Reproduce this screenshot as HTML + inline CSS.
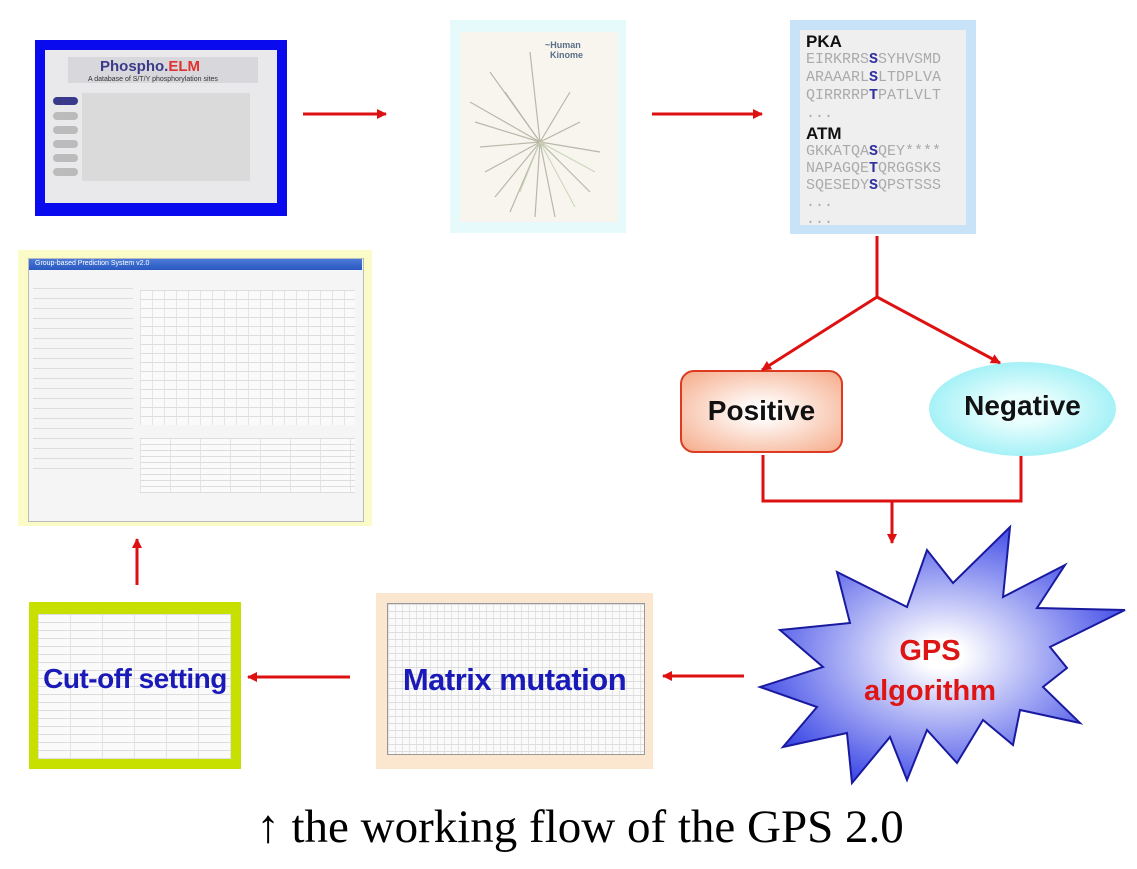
<!DOCTYPE html>
<html><head><meta charset="utf-8"><style>
body{margin:0;width:1137px;height:869px;background:#fff;position:relative;overflow:hidden;font-family:"Liberation Sans",sans-serif}
.a{position:absolute}
.grid{background-color:#fafafa;background-image:linear-gradient(#ddd 1px,transparent 1px),linear-gradient(90deg,#e4e4e4 1px,transparent 1px);background-size:12px 9px}
.seq{font-family:"Liberation Mono",monospace;color:#aaa;font-size:15px;line-height:18px;white-space:pre}
.seq b{color:#3030a0}
</style></head><body>
<!-- PhosphoELM -->
<div class="a" style="left:35px;top:40px;width:252px;height:176px;background:#0a0aee"></div>
<div class="a" style="left:45px;top:50px;width:232px;height:153px;background:#e9e9ec"></div>
<div class="a" style="left:68px;top:57px;width:190px;height:26px;background:#d8d8dc"></div>
<div class="a" style="left:100px;top:58px;font-size:15px;font-weight:bold;color:#3a3a8a">Phospho.<span style="color:#e03030">ELM</span></div>
<div class="a" style="left:88px;top:76px;font-size:7px;color:#333">A database of S/T/Y phosphorylation sites</div>
<div class="a" style="left:53px;top:97px;width:25px;height:8px;border-radius:5px;background:#3a3a8a"></div>
<div class="a" style="left:53px;top:112px;width:25px;height:8px;border-radius:5px;background:#bbb"></div>
<div class="a" style="left:53px;top:126px;width:25px;height:8px;border-radius:5px;background:#bbb"></div>
<div class="a" style="left:53px;top:140px;width:25px;height:8px;border-radius:5px;background:#bbb"></div>
<div class="a" style="left:53px;top:154px;width:25px;height:8px;border-radius:5px;background:#bbb"></div>
<div class="a" style="left:53px;top:168px;width:25px;height:8px;border-radius:5px;background:#bbb"></div>
<div class="a" style="left:82px;top:93px;width:168px;height:88px;background:#dadada"></div>
<!-- Kinome -->
<div class="a" style="left:450px;top:20px;width:176px;height:213px;background:#e6fafc"></div>
<div class="a" style="left:460px;top:32px;width:158px;height:190px;background:#f7f5ee"></div>
<svg class="a" style="left:460px;top:32px" width="158" height="190"><g stroke="#b9b8a8" stroke-width="1.2" fill="none">
<path d="M80 110 L30 40 M80 110 L15 90 M80 110 L25 140 M80 110 L50 180 M80 110 L95 185 M80 110 L130 160 M80 110 L140 120 M80 110 L110 60 M80 110 L70 20 M80 110 L45 60 M80 110 L20 115 M80 110 L120 90 M80 110 L10 70 M80 110 L35 165 M80 110 L75 185"/></g>
<g stroke="#c8d6b8" stroke-width="1" fill="none"><path d="M80 110 L135 140 M80 110 L115 175 M80 110 L60 160"/></g></svg>
<div class="a" style="left:545px;top:40px;font-size:9px;font-weight:bold;color:#5a6e88;line-height:10px">~Human<br>&nbsp;&nbsp;Kinome</div>
<!-- PKA -->
<div class="a" style="left:790px;top:20px;width:186px;height:214px;background:#c8e2f7"></div>
<div class="a" style="left:800px;top:30px;width:166px;height:195px;background:#efefef"></div>
<div class="a" style="left:806px;top:32px;font-size:17px;font-weight:bold;color:#111">PKA</div>
<div class="a seq" style="left:806px;top:51px">EIRKRRS<b>S</b>SYHVSMD
ARAAARL<b>S</b>LTDPLVA
QIRRRRP<b>T</b>PATLVLT
...</div>
<div class="a" style="left:806px;top:124px;font-size:17px;font-weight:bold;color:#111">ATM</div>
<div class="a seq" style="left:806px;top:143px;line-height:17px">GKKATQA<b>S</b>QEY****
NAPAGQE<b>T</b>QRGGSKS
SQESEDY<b>S</b>QPSTSSS
...
...</div>
<!-- Software window -->
<div class="a" style="left:18px;top:250px;width:354px;height:276px;background:#fbfbc8"></div>
<div class="a" style="left:28px;top:258px;width:334px;height:262px;background:#f5f5f5;border:1px solid #bbb"></div>
<div class="a" style="left:29px;top:259px;width:333px;height:11px;background:linear-gradient(#4a7ad8,#2a58c0)"></div>
<div class="a" style="left:35px;top:260px;font-size:7px;color:#fff">Group-based Prediction System v2.0</div>
<div class="a grid" style="left:140px;top:290px;width:215px;height:135px"></div>
<div class="a grid" style="left:140px;top:438px;width:215px;height:55px;background-size:30px 6px"></div>
<div class="a" style="left:33px;top:282px;width:100px;height:190px;background:repeating-linear-gradient(#f5f5f5 0 6px,#ddd 6px 7px,#f5f5f5 7px 10px)"></div>
<!-- Positive / Negative -->
<div class="a" style="left:680px;top:370px;width:163px;height:83px;border:2px solid #dd3a22;border-radius:14px;background:radial-gradient(ellipse at center,#fff 10%,#f6b090 95%);box-sizing:border-box"></div>
<div class="a" style="left:680px;top:395px;width:163px;text-align:center;font-size:28px;font-weight:bold;color:#111">Positive</div>
<div class="a" style="left:929px;top:362px;width:187px;height:94px;border-radius:50%;background:radial-gradient(ellipse at center,#eafefe 20%,#7eeaf2 100%)"></div>
<div class="a" style="left:929px;top:390px;width:187px;text-align:center;font-size:28px;font-weight:bold;color:#111">Negative</div>
<!-- Cut-off -->
<div class="a" style="left:29px;top:602px;width:212px;height:167px;background:#c7e000"></div>
<div class="a grid" style="left:38px;top:614px;width:193px;height:145px;background-size:32px 8px"></div>
<div class="a" style="left:29px;top:663px;width:212px;text-align:center;font-size:28px;font-weight:bold;color:#1a1ab8;letter-spacing:-0.5px">Cut-off setting</div>
<!-- Matrix -->
<div class="a" style="left:376px;top:593px;width:277px;height:176px;background:#fbe6d0"></div>
<div class="a grid" style="left:387px;top:603px;width:256px;height:150px;border:1px solid #999;background-size:7px 7px"></div>
<div class="a" style="left:376px;top:662px;width:277px;text-align:center;font-size:31px;font-weight:bold;color:#1a1ab8;letter-spacing:-0.5px">Matrix mutation</div>
<!-- SVG arrows + star -->
<svg class="a" style="left:0;top:0" width="1137" height="869">
<defs>
<marker id="ah" markerWidth="10" markerHeight="10" refX="9" refY="5" orient="auto" markerUnits="userSpaceOnUse"><path d="M0,0 L10,5 L0,10z" fill="#dd1111"/></marker>
<radialGradient id="sg" cx="50%" cy="50%" r="55%"><stop offset="0.1" stop-color="#fff"/><stop offset="1" stop-color="#3a46e6"/></radialGradient>
</defs>
<g stroke="#dd1111" stroke-width="3" fill="none">
<line x1="303" y1="114" x2="386" y2="114" marker-end="url(#ah)"/>
<line x1="652" y1="114" x2="762" y2="114" marker-end="url(#ah)"/>
<path d="M877 236 V297"/>
<line x1="877" y1="297" x2="762" y2="370" marker-end="url(#ah)"/>
<line x1="877" y1="297" x2="1000" y2="363" marker-end="url(#ah)"/>
<path d="M763 455 V501 H1021 V456"/>
<line x1="892" y1="501" x2="892" y2="543" marker-end="url(#ah)"/>
<line x1="744" y1="676" x2="663" y2="676" marker-end="url(#ah)"/>
<line x1="350" y1="677" x2="248" y2="677" marker-end="url(#ah)"/>
<line x1="137" y1="585" x2="137" y2="539" marker-end="url(#ah)"/>
</g>
<polygon fill="url(#sg)" stroke="#1a1aa0" stroke-width="2" points="1010,527 1003,597 1065,565 1037,608 1125,610 1050,647 1067,668 1043,687 1080,723 1020,710 1013,745 983,720 957,763 927,730 907,780 890,737 852,783 847,733 783,747 817,707 760,687 823,667 780,630 850,623 837,572 907,607 927,550 953,583"/>
<text x="930" y="660" text-anchor="middle" font-family="Liberation Sans" font-weight="bold" font-size="29" fill="#dd1515">GPS</text>
<text x="930" y="700" text-anchor="middle" font-family="Liberation Sans" font-weight="bold" font-size="29" fill="#dd1515">algorithm</text>
</svg>
<div class="a" style="left:0;top:800px;width:1160px;text-align:center;font-family:'Liberation Serif',serif;font-size:47px;color:#000">↑ the working flow of the GPS 2.0</div>
</body></html>
